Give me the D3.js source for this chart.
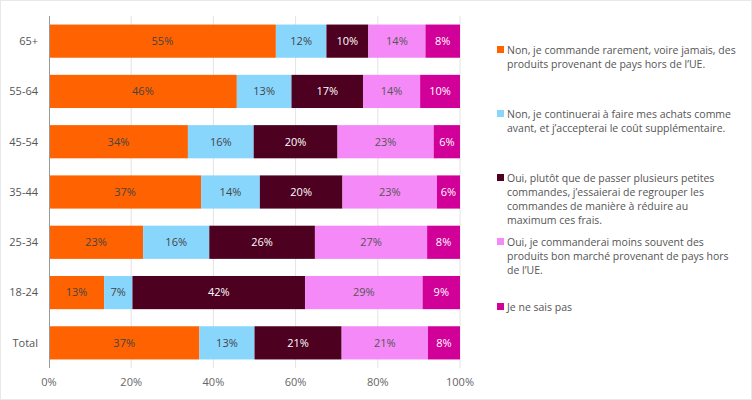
<!DOCTYPE html>
<html>
<head>
<meta charset="utf-8">
<script src="https://cdn.jsdelivr.net/npm/d3@7"></script>
<style>
  body { margin: 0; background: #fff; }
  svg { display: block; font-family: "Open Sans", sans-serif; }
</style>
</head>
<body>
<svg id="chart" width="752" height="400"></svg>
<script>
// categories, top to bottom
var groups = ['65+', '55-64', '45-54', '35-44', '25-34', '18-24', 'Total'];

// series values (% of each group)
var nonRarement   = [55.2, 45.7, 33.8, 37.0, 22.9, 13.4, 36.6];
var nonContinuer  = [12.3, 13.3, 16.0, 14.3, 16.1, 6.9, 13.4];
var ouiRegrouper  = [10.2, 17.4, 20.4, 20.1, 25.7, 42.0, 21.2];
var ouiMoins      = [13.9, 13.9, 23.4, 23.0, 27.3, 28.6, 21.0];
var nsp           = [8.4, 9.7, 6.4, 5.6, 8.0, 9.1, 7.8];

var seriesNames = [
  'Non, je commande rarement, voire jamais, des produits provenant de pays hors de l\u2019UE.',
  'Non, je continuerai à faire mes achats comme avant, et j\u2019accepterai le coût supplémentaire.',
  'Oui, plutôt que de passer plusieurs petites commandes, j\u2019essaierai de regrouper les commandes de manière à réduire au maximum ces frais.',
  'Oui, je commanderai moins souvent des produits bon marché provenant de pays hors de l\u2019UE.',
  'Je ne sais pas'
];
var xTicks = [0, 20, 40, 60, 80, 100];

var COLORS = ['#ff6200', '#89d6fd', '#4d0020', '#f589f7', '#d10098'];
var LABEL_COLORS = ['#444', '#444', '#fff', '#555', '#fff'];

var allSeries = [nonRarement, nonContinuer, ouiRegrouper, ouiMoins, nsp];

var svg = d3.select('#chart');
svg.append('rect')
  .attr('x', 0.5).attr('y', 0.5).attr('width', 751).attr('height', 399)
  .attr('fill', '#fff').attr('stroke', '#e8e8e8');

var x = d3.scaleLinear().domain([0, 100]).range([49, 460]);
var y = d3.scaleBand().domain(groups).range([16, 368]).paddingInner(0.34).paddingOuter(0.17);

// gridlines
svg.append('g').selectAll('line').data(xTicks.slice(1))
  .enter().append('line')
  .attr('x1', function (d) { return x(d); }).attr('x2', function (d) { return x(d); })
  .attr('y1', 16).attr('y2', 368)
  .attr('stroke', '#e3e3e3');

// stack
var rows = groups.map(function (g, i) {
  var r = { group: g };
  allSeries.forEach(function (s, k) { r['s' + k] = s[i]; });
  return r;
});
var stack = d3.stack().keys(allSeries.map(function (s, k) { return 's' + k; }));
var layers = stack(rows);

var layer = svg.append('g').selectAll('g').data(layers)
  .enter().append('g')
  .attr('fill', function (d, i) { return COLORS[i]; });

layer.selectAll('rect').data(function (d) { return d; })
  .enter().append('rect')
  .attr('x', function (d) { return x(d[0]); })
  .attr('width', function (d) { return x(d[1]) - x(d[0]); })
  .attr('y', function (d) { return y(d.data.group); })
  .attr('height', y.bandwidth());

layer.each(function (L, i) {
  d3.select(this).selectAll('text').data(L)
    .enter().append('text')
    .attr('x', function (d) { return (x(d[0]) + x(d[1])) / 2; })
    .attr('y', function (d) { return y(d.data.group) + y.bandwidth() / 2; })
    .attr('dy', '0.35em')
    .attr('text-anchor', 'middle')
    .attr('font-size', 11)
    .attr('fill', LABEL_COLORS[i])
    .text(function (d) { return Math.round(d[1] - d[0]) + '%'; });
});

// y axis
svg.append('line')
  .attr('x1', 49.5).attr('x2', 49.5).attr('y1', 16).attr('y2', 368)
  .attr('stroke', '#999');
svg.append('g').selectAll('text').data(groups)
  .enter().append('text')
  .attr('x', 38)
  .attr('y', function (d) { return y(d) + y.bandwidth() / 2; })
  .attr('dy', '0.35em')
  .attr('text-anchor', 'end')
  .attr('font-size', 11)
  .attr('fill', '#555')
  .text(function (d) { return d; });

// x axis labels
svg.append('g').selectAll('text').data(xTicks)
  .enter().append('text')
  .attr('x', function (d) { return x(d); })
  .attr('y', 386)
  .attr('text-anchor', 'middle')
  .attr('font-size', 11)
  .attr('fill', '#666')
  .text(function (d) { return d + '%'; });

// legend
var legendLines = [
  ['Non, je commande rarement, voire jamais, des', 'produits provenant de pays hors de l\u2019UE.'],
  ['Non, je continuerai à faire mes achats comme', 'avant, et j\u2019accepterai le coût supplémentaire.'],
  ['Oui, plutôt que de passer plusieurs petites', 'commandes, j\u2019essaierai de regrouper les', 'commandes de manière à réduire au', 'maximum ces frais.'],
  ['Oui, je commanderai moins souvent des', 'produits bon marché provenant de pays hors', 'de l\u2019UE.'],
  ['Je ne sais pas']
];
var legendY = [50, 114, 178, 242, 307];

var leg = svg.append('g').selectAll('g').data(seriesNames)
  .enter().append('g')
  .attr('transform', function (d, i) { return 'translate(497,' + legendY[i] + ')'; });
leg.append('rect')
  .attr('x', 0).attr('y', -4).attr('width', 7).attr('height', 7)
  .attr('fill', function (d, i) { return COLORS[i]; });
leg.append('text')
  .attr('font-size', 10.5)
  .attr('fill', '#555')
  .each(function (d, i) {
    var t = d3.select(this);
    legendLines[i].forEach(function (line, j) {
      t.append('tspan').attr('x', 10).attr('y', j * 14).attr('dy', '0.35em').text(line);
    });
  });
</script>
</body>
</html>
